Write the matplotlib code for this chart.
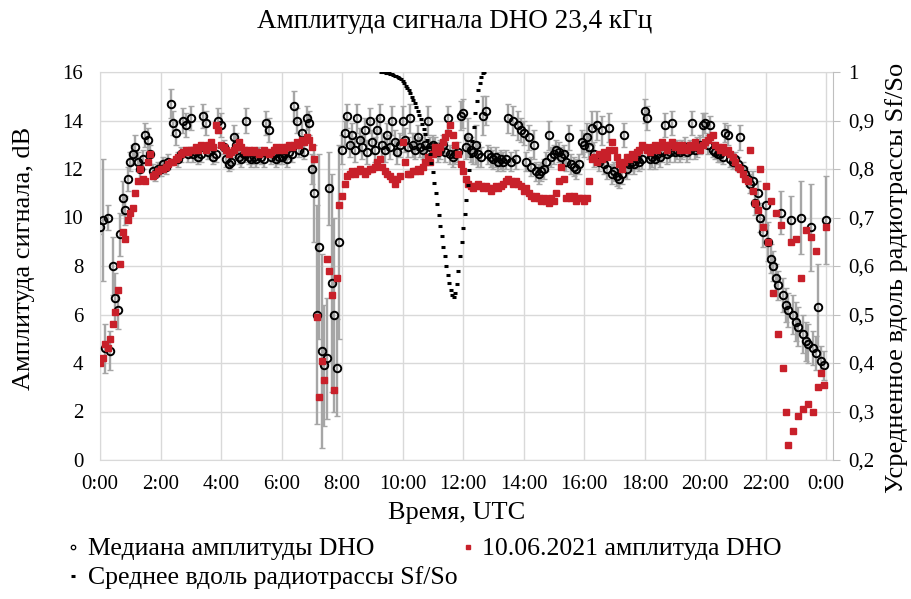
import numpy as np
import matplotlib.pyplot as plt
from matplotlib.lines import Line2D

plt.rcParams['font.family'] = ['Liberation Serif', 'DejaVu Serif']

# ---------------------------------------------------------------
# data: 5-minute steps, 0:00 ... 24:00 (one row = one hour)
med = [
    9.6, 9.9, 4.6, 10.0, 4.5, 8.0, 6.7, 6.2, 9.3, 10.8, 10.3, 11.6,
    12.3, 12.6, 12.9, 12.3, 12.0, 12.4, 13.4, 13.2, 12.6, 11.9, 11.8, 12.0,
    12.0, 12.2, 12.1, 12.3, 14.7, 13.9, 13.5, 12.4, 12.6, 14.0, 13.8, 12.6,
    14.1, 12.6, 12.7, 12.5, 12.6, 14.2, 13.9, 12.7, 12.8, 12.5, 12.6, 14.0,
    13.8, 12.9, 12.4, 12.2, 12.3, 13.3, 13.0, 12.5, 12.4, 12.6, 14.0, 12.5,
    12.4, 12.5, 12.4, 12.6, 12.5, 12.4, 13.9, 13.6, 12.5, 12.6, 12.4, 12.5,
    12.5, 12.6, 12.4, 12.7, 12.6, 14.6, 14.0, 12.8, 13.5, 12.7, 14.1, 13.9,
    12.0, 11.0, 6.0, 8.8, 4.5, 3.9, 4.2, 11.2, 7.3, 6.0, 3.8, 9.0,
    12.8, 13.5, 14.2, 13.0, 13.4, 12.8, 14.1, 13.2, 12.9, 13.6, 12.7, 14.0,
    13.1, 12.8, 13.6, 14.1, 13.0, 12.8, 13.4, 12.9, 14.0, 13.1, 12.7, 13.0,
    14.0, 13.2, 12.9, 14.1, 13.0, 12.8, 13.3, 12.9, 12.8, 13.0, 14.0, 12.9,
    13.0, 12.9, 12.7, 12.8, 13.0, 12.7, 14.1, 12.6, 12.5, 12.6, 12.7, 14.2,
    14.3, 12.9, 13.3, 12.8, 12.7, 13.0, 12.6, 12.5, 14.2, 14.4, 12.6, 12.5,
    12.4, 12.5, 12.3, 12.4, 12.3, 12.4, 14.1, 12.3, 14.0, 12.4, 13.8, 13.6,
    13.5, 12.3, 13.3, 12.1, 13.0, 11.9, 11.8, 11.9, 12.0, 12.3, 13.4, 12.5,
    12.6, 12.8, 12.7, 12.5, 12.6, 12.3, 13.3, 12.2, 12.1, 12.0, 12.2, 13.1,
    13.0, 13.3, 12.9, 13.7, 12.6, 13.8, 12.3, 13.6, 12.2, 12.0, 13.7, 11.8,
    11.9, 11.7, 11.6, 11.8, 13.4, 12.0, 12.2, 12.3, 12.2, 12.4, 12.3, 12.4,
    14.4, 14.1, 12.4, 12.5, 12.4, 12.6, 12.5, 12.7, 13.8, 12.6, 12.7, 13.9,
    12.7, 12.8, 12.7, 12.8, 12.9, 12.7, 12.8, 13.9, 12.8, 12.9, 13.0, 13.8,
    13.9, 13.0, 13.8, 12.8, 12.7, 12.6, 12.6, 12.5, 13.5, 13.4, 12.4, 12.3,
    12.4, 12.2, 13.3, 12.0, 11.8, 11.6, 11.4, 11.5, 10.6, 11.0, 10.0, 9.4,
    10.5, 9.0, 8.3, 8.0, 7.5, 7.2, 10.2, 6.8, 6.4, 6.2, 9.9, 6.0,
    5.7, 5.5, 10.0, 5.2, 4.9, 4.8, 9.6, 4.6, 4.4, 6.3, 4.1, 3.9,
    9.9]

med_err = [
    0.3, 2.5, 1.0, 0.5, 0.8, 1.2, 1.0, 0.8, 0.9, 0.7, 0.6, 0.5,
    0.4, 0.4, 0.5, 0.4, 0.4, 0.4, 0.5, 0.5, 0.4, 0.3, 0.3, 0.3,
    0.3, 0.3, 0.3, 0.3, 0.6, 0.5, 0.5, 0.3, 0.3, 0.5, 0.5, 0.3,
    0.5, 0.3, 0.3, 0.3, 0.3, 0.5, 0.5, 0.3, 0.3, 0.3, 0.3, 0.5,
    0.5, 0.3, 0.3, 0.3, 0.3, 0.5, 0.5, 0.3, 0.3, 0.3, 0.5, 0.3,
    0.3, 0.3, 0.3, 0.3, 0.3, 0.3, 0.5, 0.5, 0.3, 0.3, 0.3, 0.3,
    0.3, 0.3, 0.3, 0.3, 0.3, 0.6, 0.5, 0.3, 0.5, 0.3, 0.5, 0.5,
    0.6, 2.0, 4.5, 3.8, 4.0, 2.5, 2.5, 1.5, 4.5, 4.0, 2.0, 4.0,
    0.6, 0.5, 0.5, 0.5, 0.5, 0.5, 0.6, 0.5, 0.5, 0.5, 0.5, 0.5,
    0.5, 0.5, 0.5, 0.6, 0.5, 0.5, 0.5, 0.5, 0.6, 0.5, 0.5, 0.5,
    0.6, 0.5, 0.4, 0.6, 0.5, 0.4, 0.5, 0.4, 0.4, 0.5, 0.6, 0.4,
    0.4, 0.4, 0.4, 0.4, 0.4, 0.4, 0.5, 0.4, 0.4, 0.4, 0.4, 0.6,
    0.6, 0.5, 0.8, 0.5, 0.5, 0.8, 0.5, 0.4, 0.8, 0.6, 0.4, 0.4,
    0.4, 0.4, 0.4, 0.4, 0.4, 0.4, 0.6, 0.4, 0.6, 0.4, 0.6, 0.5,
    0.5, 0.4, 0.5, 0.4, 0.6, 0.4, 0.4, 0.4, 0.4, 0.4, 0.6, 0.4,
    0.4, 0.4, 0.4, 0.4, 0.4, 0.4, 0.5, 0.4, 0.4, 0.4, 0.4, 0.5,
    0.5, 0.6, 0.5, 0.7, 0.5, 0.6, 0.4, 0.6, 0.4, 0.4, 0.6, 0.4,
    0.4, 0.4, 0.4, 0.4, 0.5, 0.4, 0.4, 0.4, 0.4, 0.4, 0.4, 0.4,
    0.5, 0.5, 0.4, 0.4, 0.4, 0.4, 0.4, 0.4, 0.5, 0.4, 0.4, 0.5,
    0.4, 0.4, 0.4, 0.4, 0.4, 0.4, 0.4, 0.5, 0.4, 0.4, 0.4, 0.5,
    0.4, 0.4, 0.4, 0.3, 0.3, 0.3, 0.3, 0.3, 0.4, 0.4, 0.3, 0.3,
    0.3, 0.3, 0.5, 0.3, 0.3, 0.3, 0.4, 0.4, 0.5, 0.5, 0.6, 0.6,
    0.8, 0.8, 0.6, 0.6, 0.6, 0.6, 0.9, 0.7, 0.7, 0.7, 1.0, 0.8,
    0.8, 0.8, 1.5, 0.8, 0.8, 0.8, 1.8, 0.7, 0.7, 1.8, 0.6, 0.6,
    1.8]

day = [  # 10.06.2021
    4.0, 4.2, 4.8, 4.6, 5.0, 5.6, 6.1, 7.0, 8.1, 9.4, 9.1, 9.9,
    10.2, 10.4, 11.0, 11.5, 12.0, 11.6, 11.5, 12.3, 12.6, 11.7, 11.8, 11.9,
    12.0, 12.0, 12.1, 12.2, 12.3, 12.3, 12.4, 12.5, 12.6, 12.7, 12.8, 12.7,
    12.8, 12.8, 12.9, 12.8, 13.0, 12.9, 12.8, 13.0, 13.1, 12.9, 13.8, 13.6,
    13.0, 12.9, 12.8, 12.6, 12.7, 12.8, 12.9, 13.1, 12.9, 12.8, 12.7, 12.8,
    12.7, 12.8, 12.7, 12.6, 12.7, 12.8, 12.7, 12.6, 12.7, 12.8, 12.9, 12.8,
    12.9, 12.8, 12.9, 13.0, 12.9, 13.0, 13.1, 13.0, 13.2, 13.1, 13.3, 13.2,
    12.9, 12.4, 5.9, 2.6, 4.1, 3.3, 8.3, 7.8, 6.8, 2.9, 7.5, 10.5,
    10.9, 11.4, 11.7, 11.8, 11.9, 11.8, 11.9, 12.0, 11.9, 11.8, 11.9, 12.0,
    12.0, 12.1, 12.3, 12.4, 12.1, 11.9, 11.8, 11.7, 11.6, 11.4, 11.6, 11.7,
    13.1, 12.3, 11.8, 11.8, 11.9, 11.9, 12.0, 11.9, 12.1, 12.3, 12.5, 12.3,
    12.6, 12.9, 12.7, 12.9, 13.1, 13.3, 13.5, 13.8, 13.4, 13.0, 12.6, 12.2,
    11.9, 11.6, 11.4, 11.3, 11.2, 11.3, 11.4, 11.3, 11.2, 11.3, 11.2, 11.1,
    11.2, 11.3, 11.2, 11.3, 11.4, 11.5, 11.6, 11.5, 11.4, 11.5, 11.4, 11.3,
    11.1, 11.2, 11.0, 10.9, 10.8, 10.9, 10.8, 10.7, 10.8, 10.7, 10.6, 10.8,
    10.7, 11.0, 11.5, 12.1, 11.6, 10.8, 10.9, 10.8, 10.9, 10.7, 10.8, 10.8,
    10.7, 10.8, 11.5, 12.4, 12.5, 12.3, 12.6, 12.4, 12.7, 12.5, 12.8, 13.1,
    12.8, 12.5, 12.2, 12.0, 12.3, 12.5, 12.4, 12.6, 12.5, 12.7, 12.8, 13.0,
    12.9, 12.8, 12.7, 12.9, 13.0, 12.8, 12.9, 13.1, 13.0, 12.8, 13.0, 13.1,
    12.9, 13.0, 12.8, 13.0, 12.9, 12.8, 13.0, 12.9, 13.1, 12.9, 12.8, 13.0,
    13.1, 13.2, 13.3, 13.4, 13.0, 12.9, 12.8, 12.9, 12.7, 12.8, 12.6, 12.5,
    12.3, 12.1, 12.0, 11.8, 11.6, 11.5, 12.8, 11.1, 10.6, 10.3, 12.0, 9.6,
    11.3, 9.0, 10.7, 6.9, 10.2, 5.2, 9.7, 3.8, 2.0, 0.6, 9.0, 1.2,
    9.1, 1.8, 7.5, 2.1, 9.5, 2.3, 9.2, 2.0, 8.6, 3.0, 3.6, 3.1,
    9.6]

t = np.arange(len(med)) / 12.0   # hours

# Sf/So, 3-minute steps from 9:18
sf = [1.000, 0.999, 0.999, 0.998, 0.998, 0.997, 0.996, 0.995, 0.993, 0.992,
      0.991, 0.989, 0.988, 0.985,
      0.981, 0.977, 0.972, 0.967, 0.962, 0.956, 0.949, 0.943, 0.936, 0.928,
      0.920, 0.912, 0.903, 0.893, 0.883, 0.872, 0.860, 0.846, 0.830, 0.812,
      0.793, 0.772, 0.750, 0.728, 0.705, 0.683, 0.661, 0.640, 0.620, 0.600,
      0.581, 0.565, 0.551, 0.541, 0.536, 0.545, 0.562, 0.590, 0.620, 0.649,
      0.678, 0.708, 0.737, 0.767, 0.797, 0.827, 0.857, 0.886, 0.915, 0.940,
      0.962, 0.978, 0.990, 0.997, 1.000]
t_sf = 9.3 + np.arange(len(sf)) * 0.05

xticks = list(range(0, 25, 2))
xlabels = ['%d:00' % (h % 24) for h in xticks]
yticks_r = [0.2, 0.3, 0.4, 0.5, 0.6, 0.7, 0.8, 0.9, 1.0]
ylabels_r = ['0,2', '0,3', '0,4', '0,5', '0,6', '0,7', '0,8', '0,9', '1']

RED = '#C8202A'
GRID = '#D9D9D9'
FS = 15      # tick labels
FL = 19      # axis titles

fig = plt.figure(figsize=(9.12, 5.99), dpi=100)
ax = fig.add_axes([100/912, 1 - 460/599, 733/912, 388/599])

ax.errorbar(t, med, yerr=med_err, fmt='none', ecolor='#A6A6A6',
            elinewidth=1.7, capsize=2.5, capthick=1, zorder=2)
ax.plot(t, med, 'o', ms=5.4, mfc='none', mec='black', mew=1.4, zorder=3)
ax.plot(t, day, 's', ms=4.6, color=RED, mec=RED, zorder=4)

ax.set_xlim(0, 24.23)
ax.set_ylim(0, 16)
ax.set_xticks(xticks)
ax.set_xticklabels(xlabels)
ax.set_yticks(range(0, 17, 2))
ax.grid(True, color=GRID, lw=1)
ax.set_axisbelow(True)
for s in ['left', 'bottom', 'top']:
    ax.spines[s].set_color(GRID)
ax.spines['right'].set_visible(False)
ax.tick_params(length=0, labelsize=FS)
ax.tick_params(axis='x', pad=11)
ax.tick_params(axis='y', pad=12)

ax2 = ax.twinx()
ax2.plot(t_sf, sf, '_', ms=3.5, mew=2.2, color='black', zorder=5)
ax2.set_ylim(0.2, 1.0)
ax2.set_yticks(yticks_r)
ax2.set_yticklabels(ylabels_r)
for s in ['left', 'bottom', 'top']:
    ax2.spines[s].set_visible(False)
ax2.spines['right'].set_color('#BFBFBF')
ax2.tick_params(axis='y', length=5, color='#BFBFBF', labelsize=FS, pad=6)

fig.text(455/912, 1 - 22/599, 'Амплитуда сигнала DHO 23,4 кГц', ha='center',
         va='center', fontsize=19.5)
fig.text(457/912, 1 - 513/599, 'Время, UTC', ha='center', va='center',
         fontsize=FL)
fig.text(24/912, 1 - 258/599, 'Амплитуда сигнала, dB', ha='center',
         va='center', rotation=90, fontsize=FL)
fig.text(897/912, 1 - 278/599, 'Усредненное вдоль радиотрассы Sf/So',
         ha='center', va='center', rotation=90, fontsize=FL)

h_med = Line2D([], [], ls='none', marker='o', ms=3.2, mfc='none', mec='black', mew=0.9)
h_day = Line2D([], [], ls='none', marker='s', ms=3.2, color=RED)
h_sf = Line2D([], [], ls='none', marker='_', ms=3.2, mew=2.2, color='black')

leg1 = fig.legend([h_med, h_day], ['Медиана амплитуды DHO', '10.06.2021 амплитуда DHO'],
                  ncol=2, loc='center left', bbox_to_anchor=(67/912, 1 - 549/599),
                  frameon=False, fontsize=18.5, handlelength=0.5, handletextpad=0.3,
                  columnspacing=3.4, borderpad=0, borderaxespad=0)
leg2 = fig.legend([h_sf], ['Среднее вдоль радиотрассы Sf/So'],
                  loc='center left', bbox_to_anchor=(67/912, 1 - 578/599),
                  frameon=False, fontsize=18.5, handlelength=0.5, handletextpad=0.3,
                  borderpad=0, borderaxespad=0)

fig.savefig('out.png', dpi=100)
